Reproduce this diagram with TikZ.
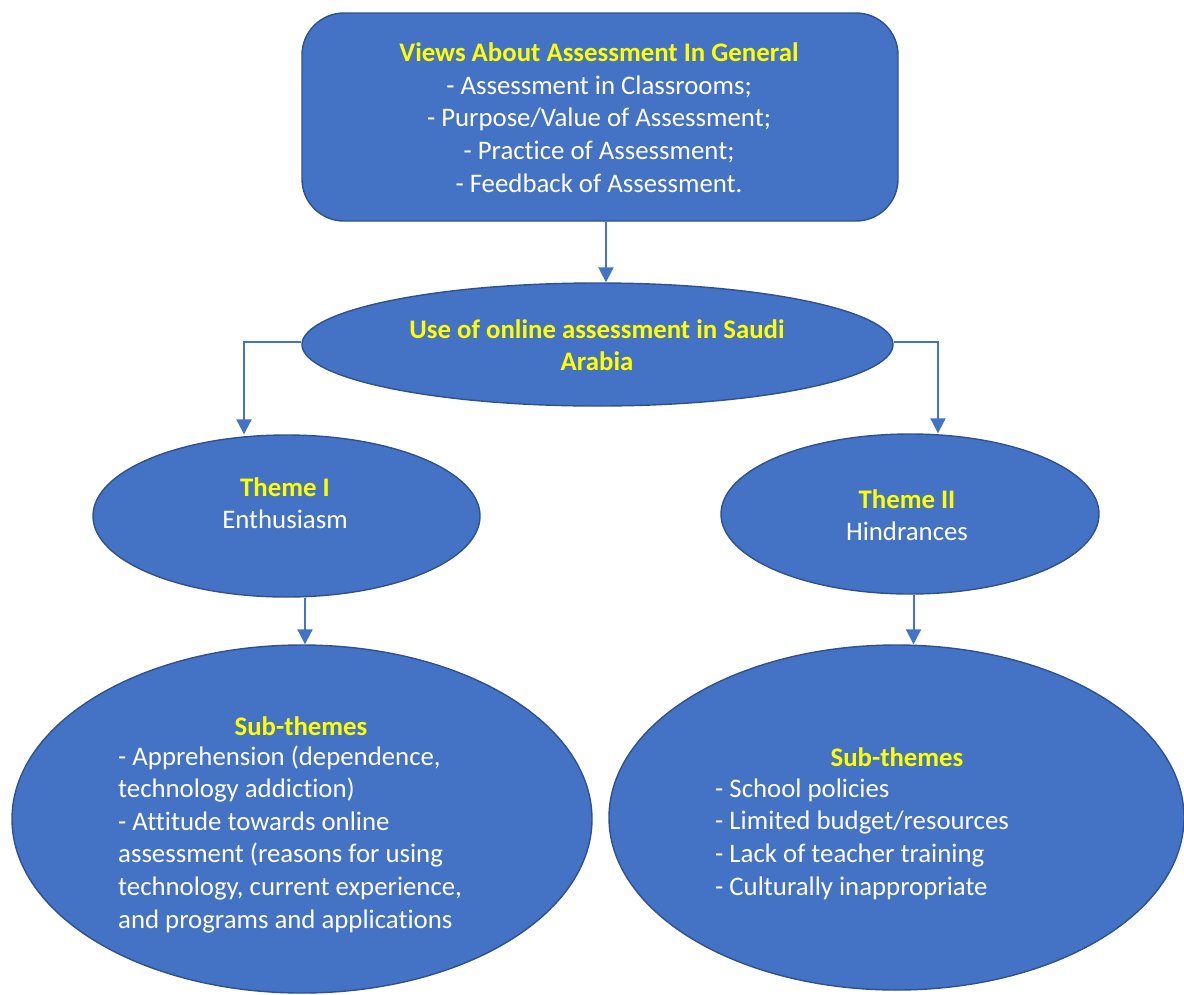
\documentclass[tikz,border=0pt]{standalone}
\usepackage{fontspec}
\setmainfont{Carlito}[Ligatures={NoCommon}]
\usetikzlibrary{shapes.geometric,arrows.meta}
\definecolor{boxfill}{HTML}{4472C4}
\definecolor{boxline}{HTML}{2F528F}
\definecolor{ttlyellow}{HTML}{FFFF00}
\begin{document}
\begin{tikzpicture}[x=1pt,y=-1pt,
  shapebase/.style={fill=boxfill,draw=boxline,line width=1.4pt,inner sep=0pt},
  oval/.style={shapebase,ellipse},
  rbox/.style={shapebase,rectangle,rounded corners=42pt},
  txt/.style={text=white,font=\fontsize{26.8}{32.6}\selectfont,inner sep=0pt},
  conn/.style={draw=boxfill,line width=2pt,-{Triangle[length=15pt,width=15pt]}}]
\newcommand{\ttl}[1]{{\bfseries\color{ttlyellow}#1}}
\useasboundingbox (0,0) rectangle (1184,994);
\fill[white] (0,0) rectangle (1184,994);
% shapes
\node[rbox,minimum width=596pt,minimum height=208pt] (top) at (600,117) {};
\node[oval,minimum width=591pt,minimum height=123pt] (use) at (597.5,344.5) {};
\node[oval,minimum width=387pt,minimum height=162pt] (t1) at (286.5,516) {};
\node[oval,minimum width=378pt,minimum height=160pt] (t2) at (910,514) {};
\node[oval,minimum width=580pt,minimum height=348pt] (s1) at (302,819) {};
\node[oval,minimum width=575pt,minimum height=345pt] (s2) at (896.5,817.5) {};
% texts
\node[txt,align=center] (toptxt) at (599,117.5) {\ttl{Views About Assessment In General}\\- Assessment in Classrooms;\\- Purpose/Value of Assessment;\\- Practice of Assessment;\\- Feedback of Assessment.};
\node[txt,align=center] (usetxt) at (597,345) {\ttl{Use of online assessment in Saudi}\\\ttl{Arabia}};
\node[txt,align=center] (t1txt) at (285,503) {\ttl{Theme I}\\Enthusiasm};
\node[txt,align=center] (t2txt) at (907,515) {\ttl{Theme II}\\Hindrances};
\node[txt] (s1ttl) at (301,726) {\ttl{Sub-themes}};
\node[txt,align=left,anchor=west] (s1txt) at (118,839) {- Apprehension (dependence,\\technology addiction)\\- Attitude towards online\\assessment (reasons for using\\technology, current experience,\\and programs and applications};
\node[txt] (s2ttl) at (897,757) {\ttl{Sub-themes}};
\node[txt,align=left,anchor=west] (s2txt) at (715,839) {- School policies\\- Limited budget/resources\\- Lack of teacher training\\- Culturally inappropriate};
% connectors
\draw[conn] ([xshift=6pt]top.south) -- ([xshift=6pt]top.south |- use.north);
\draw[conn] ([yshift=3pt]use.west) -| ([xshift=-42.5pt]t1.north);
\draw[conn] ([yshift=3pt]use.east) -| ([xshift=28pt]t2.north);
\draw[conn] ([xshift=18.5pt]t1.south) -- ([xshift=18.5pt]t1.south |- s1.north);
\draw[conn] ([xshift=3.5pt]t2.south) -- ([xshift=3.5pt]t2.south |- s2.north);
\end{tikzpicture}
\end{document}
